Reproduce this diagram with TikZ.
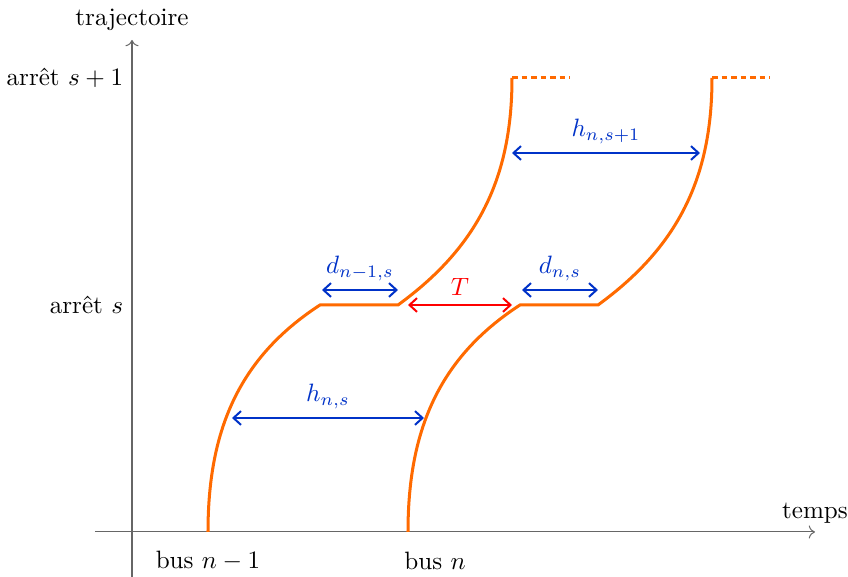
\documentclass[tikz,border=0pt]{standalone}
\usepackage{amsmath, amssymb}
\usepackage{tikz}
\usetikzlibrary{arrows.meta, calc}
\definecolor{busorange}{RGB}{255,106,0}
\definecolor{gapblue}{RGB}{0,50,200}

\begin{document}
\begin{tikzpicture}[x=0.7cm, y=0.7cm, >={To[length=2.5pt]},
  trip/.style={very thick, busorange},
  gap/.style={thick, {Straight Barb[length=3pt,width=5.5pt]}-{Straight Barb[length=3pt,width=5.5pt]}},
  gaplabel/.style={midway, above}]
  \useasboundingbox (-2.64,-0.9) rectangle (14.32,10.64);
  % axes
  \coordinate (xstart) at (-0.74,0);
  \coordinate (xend) at (13.66,0);
  \coordinate (ystart) at (0,-0.9);
  \coordinate (yend) at (0,9.84);
  \draw[->, gray!80!black] (xstart) -- (xend);
  \draw[->, gray!80!black] (ystart) -- (yend);
  \node[above] (temps) at (xend) {temps};
  \node[above] (traj) at (yend) {trajectoire};
  \node[left] (stopA) at (0,4.54) {arrêt $s$};
  \node[left] (stopB) at (0,9.08) {arrêt $s+1$};
  \node (busA) at (1.52,-0.58) {bus $n-1$};
  \node (busB) at (6.06,-0.58) {bus $n$};
  % bus trajectories
  \draw[trip] (1.52,0) coordinate (a0) to[out=90, in=213] (3.76,4.54) coordinate (a1)
    -- (5.32,4.54) coordinate (a2) to[out=36, in=270] (7.6,9.08) coordinate (a3);
  \draw[trip] (5.52,0) coordinate (b0) to[out=90, in=213] (7.76,4.54) coordinate (b1)
    -- (9.32,4.54) coordinate (b2) to[out=36, in=270] (11.6,9.08) coordinate (b3);
  \draw[trip, dash pattern=on 2.2pt off 1.6pt] (a3) -- ++(1.16,0) coordinate (a4);
  \draw[trip, dash pattern=on 2.2pt off 1.6pt] (b3) -- ++(1.16,0) coordinate (b4);
  % headways and dwell times
  \coordinate (hsL) at (2.0,2.28);
  \coordinate (hsR) at (5.84,2.28);
  \coordinate (htL) at (7.6,7.58);
  \coordinate (htR) at (11.36,7.58);
  \coordinate (dAL) at (3.8,4.84);
  \coordinate (dAR) at (5.32,4.84);
  \coordinate (dBL) at (7.8,4.84);
  \coordinate (dBR) at (9.32,4.84);
  \coordinate (tL) at (5.52,4.54);
  \coordinate (tR) at (7.6,4.54);
  \draw[gap, gapblue] (hsL) -- (hsR) node[gaplabel] {$h_{n,s}$};
  \draw[gap, gapblue] (htL) -- (htR) node[gaplabel] {$h_{n,s+1}$};
  \draw[gap, gapblue] (dAL) -- (dAR) node[gaplabel] {$d_{n-1,s}$};
  \draw[gap, gapblue] (dBL) -- (dBR) node[gaplabel] {$d_{n,s}$};
  \draw[gap, red] (tL) -- (tR) node[gaplabel] {$T$};
\end{tikzpicture}
\end{document}
